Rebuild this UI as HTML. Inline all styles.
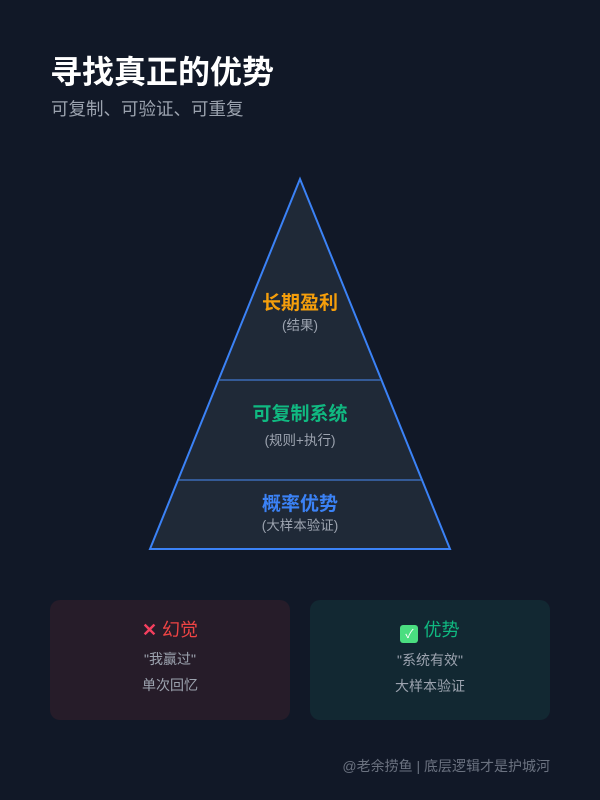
<!DOCTYPE html>
<html><head><meta charset="utf-8"><style>
*{margin:0;padding:0;box-sizing:border-box}
body{width:600px;height:800px;background:#111827;font-family:"Liberation Sans","Noto Sans CJK SC",sans-serif;position:relative;overflow:hidden}
.t{position:absolute;white-space:nowrap}
.card{position:absolute;top:600px;width:240px;height:120px;border-radius:10px;text-align:center}
</style></head><body>
<div class="t" style="left:50px;top:47px;font-size:32px;font-weight:bold;color:#fff">寻找真正的优势</div>
<div class="t" style="left:51px;top:96px;font-size:17.5px;color:#9ca3af">可复制、可验证、可重复</div>
<svg width="600" height="800" style="position:absolute;left:0;top:0">
<polygon points="300,179 150,549 450,549" fill="#1f2937" stroke="#3b82f6" stroke-width="2"/>
<line x1="219" y1="380" x2="381" y2="380" stroke="#3b6bb5" stroke-width="1.5"/>
<line x1="179" y1="480" x2="421" y2="480" stroke="#3b6bb5" stroke-width="1.5"/>
<g font-family="Liberation Sans,Noto Sans CJK SC,sans-serif" text-anchor="middle">
<text x="300" y="309" font-size="19" font-weight="bold" fill="#f59e0b">长期盈利</text>
<text x="300" y="330" font-size="13.5" fill="#9ca3af">(结果)</text>
<text x="300" y="420" font-size="19" font-weight="bold" fill="#10b981">可复制系统</text>
<text x="300" y="445" font-size="13.5" fill="#9ca3af">(规则+执行)</text>
<text x="300" y="510" font-size="19" font-weight="bold" fill="#3b82f6">概率优势</text>
<text x="300" y="530" font-size="13.5" fill="#9ca3af">(大样本验证)</text>
</g></svg>
<div class="card" style="left:50px;background:#261c29">
<div style="margin-top:16px;font-size:18px;color:#ef4444"><span style="color:#f43f5e;font-weight:bold">✕</span> 幻觉</div>
<div style="margin-top:7px;font-size:14px;color:#9ca3af">"我赢过"</div>
<div style="margin-top:6px;font-size:14px;color:#9ca3af">单次回忆</div>
</div>
<div class="card" style="left:310px;background:#122832">
<div style="margin-top:16px;font-size:18px;color:#10b981"><span style="display:inline-block;width:18px;height:18px;background:#4ade80;border-radius:3px;color:#fff;font-size:12px;line-height:18px;vertical-align:-2px">✓</span> 优势</div>
<div style="margin-top:7px;font-size:14px;color:#9ca3af">"系统有效"</div>
<div style="margin-top:6px;font-size:14px;color:#9ca3af">大样本验证</div>
</div>
<div class="t" style="right:50px;top:756px;font-size:14px;color:#6b7280">@老余捞鱼 | 底层逻辑才是护城河</div>
</body></html>
